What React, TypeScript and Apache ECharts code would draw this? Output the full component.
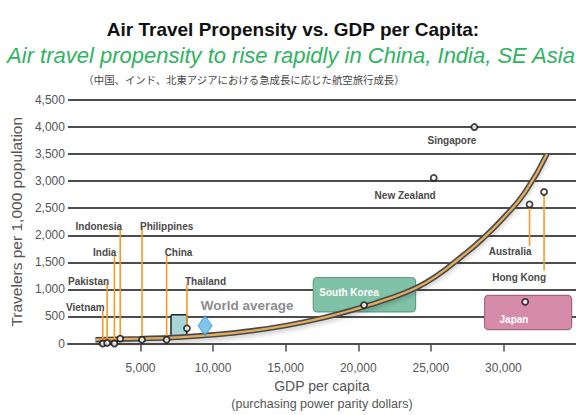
import React, { useEffect, useRef } from "react";
import * as echarts from "echarts";

const TITLE = "Air Travel Propensity vs. GDP per Capita:";
const SUBTITLE = "Air travel propensity to rise rapidly in China, India, SE Asia";
const JP_NOTE = "（中国、インド、北東アジアにおける急成長に応じた航空旅行成長）";
const X_NAME_1 = "GDP per capita";
const X_NAME_2 = "(purchasing power parity dollars)";
const Y_NAME = "Travelers per 1,000 population";

const X_TICKS = [5000, 10000, 15000, 20000, 25000, 30000];

const COUNTRIES = ["Vietnam", "Pakistan", "India", "Indonesia", "Philippines", "China", "Thailand", "Singapore", "New Zealand", "Australia", "Hong Kong", "South Korea", "Japan"];
const GDP = [2400, 2700, 3200, 3600, 5100, 6800, 8200, 28000, 25200, 31800, 32800, 20400, 31500];
const TRAVELERS = [0, 10, 0, 90, 70, 70, 280, 4000, 3060, 2570, 2800, 710, 770];
const LEADER_TO: (number | null)[] = [620, 1110, 1640, 2130, 2130, 1640, 1100, null, null, 1800, 1350, null, null];

const CURVE_GDP = [1900, 5000, 7500, 10000, 12500, 15000, 17500, 20000, 22000, 24000, 25500, 27000, 28500, 30000, 31500, 33000];
const CURVE_TRAVELERS = [70, 90, 115, 160, 230, 330, 470, 650, 820, 1030, 1270, 1580, 1920, 2320, 2800, 3500];

const WORLD_LABEL = "World average";
const WORLD_GDP = 9450;
const WORLD_TRAVELERS = 330;

const BOX_NAMES = ["South Korea", "Japan", ""];
const BOX_X0 = [16900, 28700, 7100];
const BOX_X1 = [23950, 34700, 8190];
const BOX_Y0 = [583, 255, 145];
const BOX_Y1 = [1220, 890, 530];

// layout / style helpers (not data)
const LABEL_SIDE: Record<string, string> = {
  Vietnam: "right", Pakistan: "right", India: "right", Indonesia: "right",
  Philippines: "left", China: "left", Thailand: "left",
  Singapore: "right", "New Zealand": "right", Australia: "right", "Hong Kong": "right",
  "South Korea": "none", Japan: "none",
};
const LABEL_DY: Record<string, number> = { Singapore: 8, "New Zealand": 13, Australia: 1, "Hong Kong": 3 };
const BOX_STYLE = [
  { fill: "#7fc2a8", stroke: "#5f9f89", lw: 1.2, r: 4, textDx: 6, textDy: 15 },
  { fill: "#d68ca8", stroke: "#a0687c", lw: 1.2, r: 4, textDx: 15, textDy: 24 },
  { fill: "#a8d6d8", stroke: "#222222", lw: 1.5, r: 1, textDx: 0, textDy: 0 },
];

const FONT = "'Liberation Sans', Arial, sans-serif";
const GRID = "#4d4d4d";

const fmt = (v: number) => String(v).replace(/\B(?=(\d{3})+(?!\d))/g, ",");

export default function App() {
  const ref = useRef<HTMLDivElement>(null);
  useEffect(() => {
    if (!ref.current) return;
    const chart = echarts.init(ref.current, null, { renderer: "svg" });
    const curveData = CURVE_GDP.map((g, i) => [g, CURVE_TRAVELERS[i]]);
    const option: any = {
      animation: false,
      backgroundColor: "#ffffff",
      grid: { left: 64, right: 0, top: 100, bottom: 68 },
      graphic: [
        { type: "text", x: 293, y: 29, style: { text: TITLE, fill: "#111", fontSize: 19, fontWeight: "bold", fontFamily: FONT, textAlign: "center", textVerticalAlign: "middle" } },
        { type: "text", x: 291, y: 55, style: { text: SUBTITLE, fill: "#2fb35f", fontSize: 22, fontStyle: "italic", fontFamily: FONT, textAlign: "center", textVerticalAlign: "middle" } },
        { type: "text", x: 244, y: 79, style: { text: JP_NOTE, fill: "#444", fontSize: 10.4, fontFamily: "'Noto Sans CJK JP', sans-serif", textAlign: "center", textVerticalAlign: "middle" } },
      ],
      xAxis: {
        type: "value", min: 0, max: 35000, interval: 5000,
        axisLine: { show: true, lineStyle: { color: GRID, width: 2 } },
        axisTick: { show: true, length: 8, customValues: X_TICKS, lineStyle: { color: GRID, width: 1.5 } },
        axisLabel: { customValues: X_TICKS, formatter: (v: number) => fmt(v), color: "#555", fontSize: 12, fontFamily: FONT, margin: 18 },
        splitLine: { show: false },
        name: `{a|${X_NAME_1}}\n{b|${X_NAME_2}}`,
        nameLocation: "middle", nameGap: 33,
        nameTextStyle: {
          rich: {
            a: { fontSize: 14, color: "#555", fontFamily: FONT, lineHeight: 18 },
            b: { fontSize: 12.5, color: "#555", fontFamily: FONT, lineHeight: 18 },
          },
        },
      },
      yAxis: {
        type: "value", min: 0, max: 4500, interval: 500,
        axisLine: { show: false }, axisTick: { show: false },
        axisLabel: { formatter: (v: number) => fmt(v), color: "#555", fontSize: 12, fontFamily: FONT, margin: 3 },
        splitLine: { show: true, lineStyle: { color: GRID, width: 2 } },
        name: Y_NAME, nameLocation: "middle", nameGap: 42,
        nameTextStyle: { fontSize: 15.5, color: "#555", fontFamily: FONT },
      },
      series: [
        {
          type: "custom", name: "boxes", z: 1,
          data: BOX_NAMES.map((n, i) => [BOX_X0[i], BOX_Y0[i], BOX_X1[i], BOX_Y1[i]]),
          encode: { x: [0, 2], y: [1, 3] },
          renderItem: (params: any, api: any) => {
            const i = params.dataIndex;
            const tl = api.coord([BOX_X0[i], BOX_Y1[i]]);
            const br = api.coord([BOX_X1[i], BOX_Y0[i]]);
            const s = BOX_STYLE[i];
            const children: any[] = [
              { type: "rect", shape: { x: tl[0], y: tl[1], width: br[0] - tl[0], height: br[1] - tl[1], r: s.r }, style: { fill: s.fill, stroke: s.stroke, lineWidth: s.lw } },
            ];
            if (BOX_NAMES[i]) {
              children.push({ type: "text", x: tl[0] + s.textDx, y: tl[1] + s.textDy, style: { text: BOX_NAMES[i], fill: "#fff", fontSize: 10, fontWeight: "bold", fontFamily: FONT, textAlign: "left", textVerticalAlign: "middle" } });
            }
            return { type: "group", children };
          },
        },
        {
          type: "line", name: "curve-outer", z: 2, data: curveData, smooth: 0.5, symbol: "none",
          lineStyle: { color: "#4a4a4a", width: 5.5, shadowColor: "rgba(0,0,0,0.18)", shadowBlur: 4, shadowOffsetY: 3 },
        },
        {
          type: "line", name: "curve-inner", z: 3, data: curveData, smooth: 0.5, symbol: "none",
          lineStyle: { color: "#e3ad5e", width: 2.3 },
        },
        {
          type: "custom", name: "labels", z: 4,
          data: COUNTRIES.map((c, i) => [GDP[i], TRAVELERS[i]]),
          renderItem: (params: any, api: any) => {
            const i = params.dataIndex;
            const name = COUNTRIES[i];
            const side = LABEL_SIDE[name];
            if (side === "none") return { type: "group", children: [] };
            const p = api.coord([GDP[i], TRAVELERS[i]]);
            const children: any[] = [];
            let ay = p[1];
            let vAlign = "top";
            const lt = LEADER_TO[i];
            const dy = LABEL_DY[name] ?? 0;
            if (lt != null) {
              const e = api.coord([GDP[i], lt]);
              children.push({ type: "line", shape: { x1: p[0], y1: p[1], x2: e[0], y2: e[1] }, style: { stroke: "#f59b25", lineWidth: 1.6 } });
              if (lt > TRAVELERS[i]) { ay = e[1] + 3 + dy; vAlign = "bottom"; } else { ay = e[1] - 1 + dy; vAlign = "top"; }
            } else {
              ay = p[1] + dy; vAlign = "top";
            }
            const dx = side === "right" ? 2 : side === "left" ? -2 : 0;
            children.push({ type: "text", x: p[0] + dx, y: ay, style: { text: name, fill: "#4a4a4a", fontSize: 10, fontWeight: "bold", fontFamily: FONT, textAlign: side, textVerticalAlign: vAlign } });
            return { type: "group", children };
          },
        },
        {
          type: "scatter", name: "countries", z: 5, symbol: "circle", symbolSize: 6,
          data: COUNTRIES.map((c, i) => [GDP[i], TRAVELERS[i]]),
          itemStyle: { color: "#ffffff", borderColor: "#111", borderWidth: 1.8 },
        },
        {
          type: "scatter", name: "world", z: 5, symbol: "diamond", symbolSize: [14, 20],
          data: [[WORLD_GDP, WORLD_TRAVELERS]],
          itemStyle: { color: "#5cb7e5", borderColor: "#3d9cd0", borderWidth: 1 },
          label: { show: true, formatter: WORLD_LABEL, position: [3, -10], align: "left", verticalAlign: "middle", fontSize: 13.5, fontWeight: "bold", color: "#6b6b6b", fontFamily: FONT },
        },
      ],
    };
    chart.setOption(option);
    return () => chart.dispose();
  }, []);
  return <div ref={ref} style={{ position: "fixed", left: 0, top: 0, width: 576, height: 415, background: "#fff" }} />;
}
